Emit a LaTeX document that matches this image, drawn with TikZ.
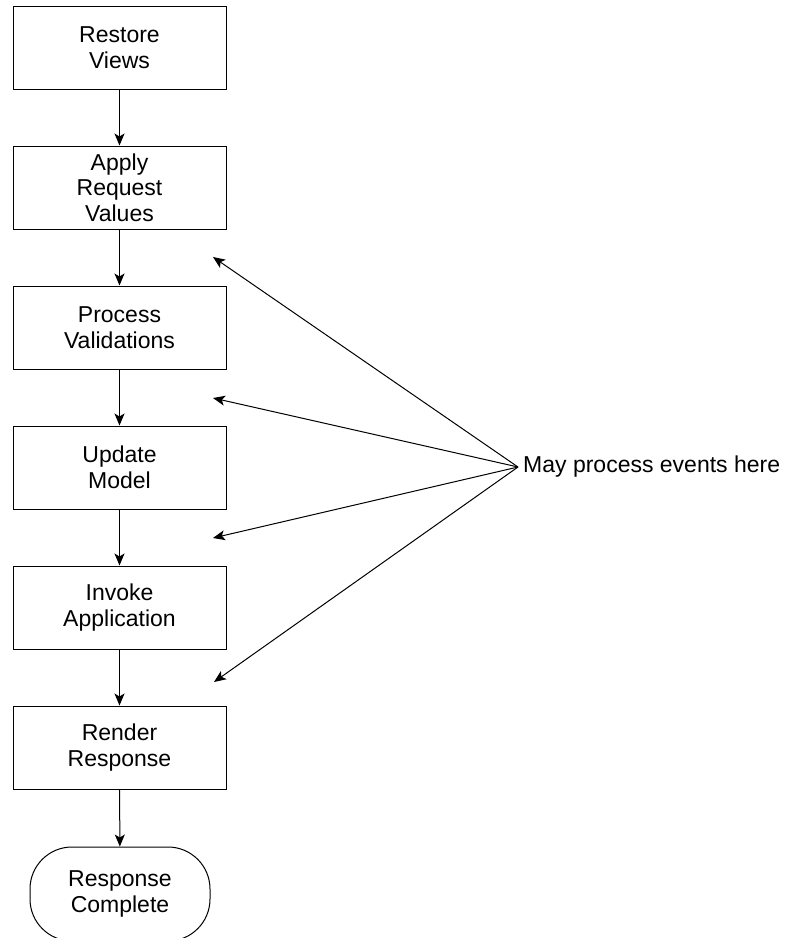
\documentclass[tikz,border=0pt]{standalone}
\usepackage{fontspec}
\setmainfont{Liberation Sans}
\usetikzlibrary{arrows.meta}
\begin{document}
\begin{tikzpicture}[x=1pt,y=-1pt,
  every node/.style={font=\fontsize{23}{25.5}\selectfont, align=center},
  stepbox/.style={draw, line width=1pt, minimum width=213pt, minimum height=83pt, inner sep=0pt},
  endbox/.style={draw, line width=1pt, minimum width=180pt, minimum height=94pt, inner sep=0pt, rounded corners=42pt},
  flow/.style={line width=1pt, -{Stealth[length=12pt,width=10pt,inset=3pt]}}]
\useasboundingbox (0,0) rectangle (789,938);
\node[stepbox] (b1) at (119.5,47.5) {Restore\\Views};
\node[stepbox] (b2) at (119.5,187.5) {Apply\\Request\\Values};
\node[stepbox] (b3) at (119.5,327.5) {Process\\Validations};
\node[stepbox] (b4) at (119.5,467.5) {Update\\Model};
\node[stepbox] (b5) at (119.5,607.5) {Invoke\\Application};
\node[stepbox] (b6) at (119.5,747.5) {Render\\Response};
\node[endbox] (b7) at (120,894) {Response\\Complete};
\draw[flow] (b1) -- (b2);
\draw[flow] (b2) -- (b3);
\draw[flow] (b3) -- (b4);
\draw[flow] (b4) -- (b5);
\draw[flow] (b5) -- (b6);
\draw[flow] (b6) -- (b7);
\node[anchor=west, inner sep=0pt] (ev) at (523,467) {May process events here};
\coordinate (t1) at (213,257);
\coordinate (t2) at (213,398);
\coordinate (t3) at (213,538);
\coordinate (t4) at (214,682);
\coordinate (src) at (518,467);
\foreach \t in {t1,t2,t3,t4} \draw[flow] (src) -- (\t);
\end{tikzpicture}
\end{document}
